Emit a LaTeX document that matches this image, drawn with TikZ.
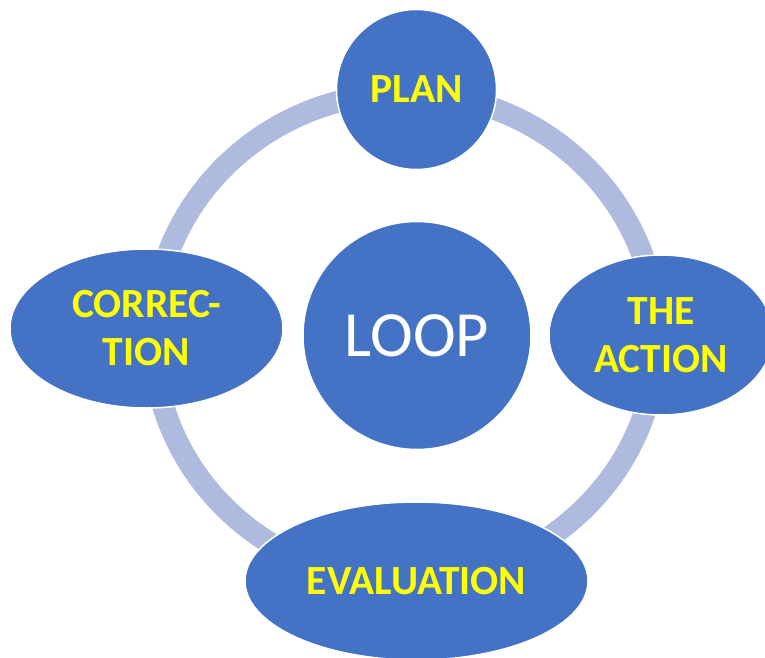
\documentclass[tikz,border=0pt]{standalone}
\usepackage{fontspec}
\setmainfont{Carlito}
\usepackage{tikz}
\usetikzlibrary{shapes,positioning}
\definecolor{fillblue}{RGB}{68,114,196}
\definecolor{ringblue}{RGB}{175,187,222}
\definecolor{labelyellow}{RGB}{255,255,0}
\def\Hub{LOOP}

\begin{document}
\begin{tikzpicture}[x=1pt,y=-1pt,% styles applied to all, override case-by-case
			every node/.style={
				align=center,		% so that "\\" gives a line break
				inner sep=0pt,
				fill=fillblue,
				draw=white,		% thin white rim where the ring meets a node
				line width=1.5pt
			},
			label/.style={
				text=labelyellow,
				font=\fontsize{41.5}{48}\selectfont\bfseries
			},
			ring/.style={draw=ringblue,line width=22pt}
		]
		\useasboundingbox (0,0) rectangle (765,658);
		\clip (0,0) rectangle (765,658);
		\coordinate (O) at (405,337);
		\draw[ring] (O) ellipse [x radius=252pt, y radius=244pt];
		\node[circle,minimum size=228pt,text=white,font=\fontsize{64.5}{75}\selectfont](N1) at (417,335.5){\Hub};
		\node[circle,minimum size=160pt,label](N2) at (416.5,89.5){PLAN};
		\node[ellipse,minimum width=224pt,minimum height=160pt,label](N3) at (661,335){THE\\ ACTION};
		\node[ellipse,minimum width=343pt,minimum height=158pt,label](N4) at (416.5,581){EVALUATION};
		\node[ellipse,minimum width=273pt,minimum height=159pt,label](N5) at (146.5,328.5){CORREC-\\ TION};
	\end{tikzpicture}
\end{document}
